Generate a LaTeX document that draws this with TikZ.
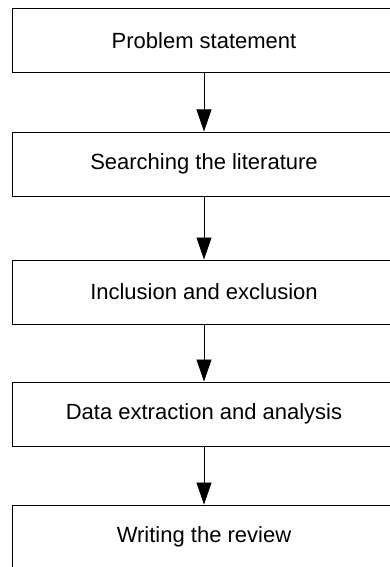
\documentclass[tikz,border=0pt]{standalone}
\usepackage{fontspec}
\setmainfont{Liberation Sans}
\usetikzlibrary{positioning,arrows.meta}

\tikzset{
  stage/.style={draw, line width=1pt, minimum width=384pt, minimum height=64pt,
    inner sep=0pt, font=\fontsize{22}{26}\selectfont},
  flow/.style={-{Triangle[width=15pt,length=22pt]}, line width=0.8pt}
}

\begin{document}
\begin{tikzpicture}
  \useasboundingbox (0,0) rectangle (390pt,-567pt);
  \node[stage] (problem) at (204pt,-41pt) {Problem statement};
  \node[stage, below=58pt of problem] (search) {Searching the literature};
  \node[stage, below=63pt of search] (incl) {Inclusion and exclusion};
  \node[stage, below=57pt of incl] (extract) {Data extraction and analysis};
  \node[stage, below=58pt of extract] (write) {Writing the review};
  \draw[flow] (problem) -- (search);
  \draw[flow] (search) -- (incl);
  \draw[flow] (incl) -- (extract);
  \draw[flow] (extract) -- (write);
\end{tikzpicture}
\end{document}
